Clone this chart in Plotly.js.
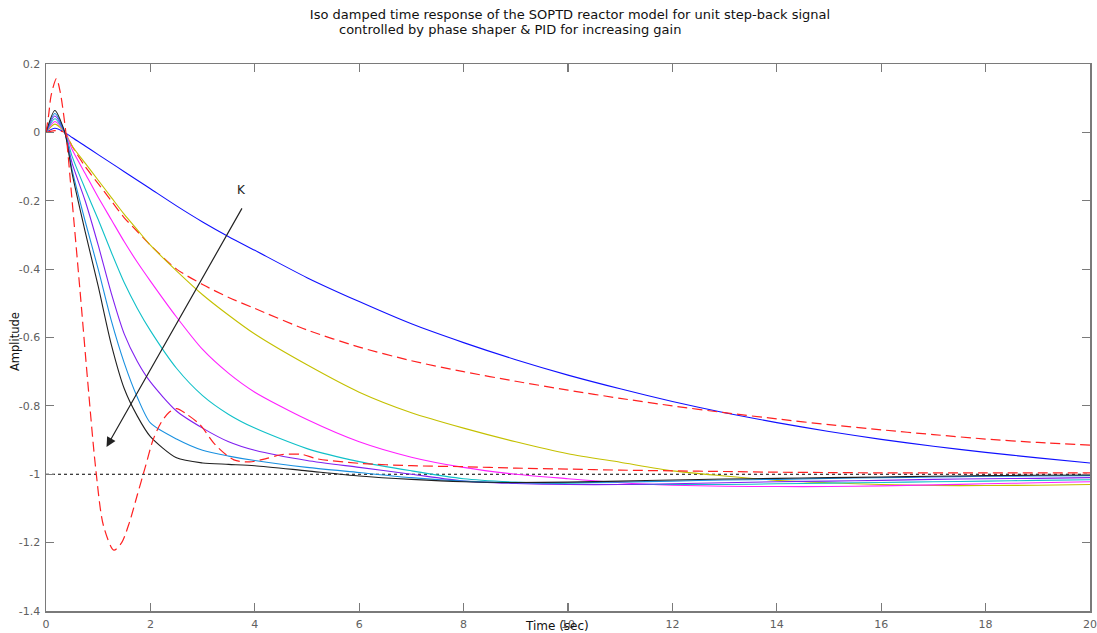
<!DOCTYPE html>
<html>
<head>
<meta charset="utf-8">
<script src="https://cdn.plot.ly/plotly-3.0.1.min.js"></script>
<style>html,body{margin:0;padding:0;background:#fff;}#chart{width:1097px;height:633px;}</style>
</head>
<body>
<div id="chart"></div>
<script>
// ---- data ----
const timeSec = [0, 0.17, 0.36, 0.5, 0.75, 1, 1.25, 1.5, 1.75, 2, 2.5, 3, 3.5, 4, 5, 6, 7, 8, 9, 10, 11, 12, 13, 14, 15, 16, 17, 18, 19, 20];

const blueResp    = [0, 0.012, 0, -0.015, -0.04, -0.065, -0.09, -0.115, -0.14, -0.165, -0.215, -0.262, -0.305, -0.345, -0.425, -0.495, -0.56, -0.615, -0.665, -0.71, -0.75, -0.787, -0.82, -0.849, -0.875, -0.898, -0.918, -0.936, -0.952, -0.967];
const redSlowResp = [0, 0.005, 0, -0.04, -0.10, -0.15, -0.20, -0.25, -0.29, -0.33, -0.40, -0.445, -0.483, -0.515, -0.578, -0.628, -0.668, -0.70, -0.728, -0.754, -0.778, -0.80, -0.82, -0.838, -0.855, -0.87, -0.884, -0.897, -0.907, -0.915];
const yellowResp  = [0, 0.024, 0, -0.04, -0.09, -0.14, -0.19, -0.24, -0.285, -0.33, -0.405, -0.475, -0.535, -0.59, -0.68, -0.76, -0.82, -0.865, -0.905, -0.94, -0.965, -0.99, -1.005, -1.018, -1.025, -1.03, -1.033, -1.033, -1.032, -1.03];
const magentaResp = [0, 0.032, 0, -0.05, -0.12, -0.19, -0.255, -0.32, -0.38, -0.435, -0.54, -0.635, -0.705, -0.76, -0.84, -0.905, -0.95, -0.98, -1.0, -1.013, -1.025, -1.032, -1.035, -1.036, -1.036, -1.034, -1.031, -1.028, -1.025, -1.022];
const cyanResp    = [0, 0.04, 0, -0.07, -0.165, -0.255, -0.35, -0.44, -0.515, -0.58, -0.69, -0.77, -0.825, -0.865, -0.925, -0.963, -0.99, -1.013, -1.023, -1.028, -1.03, -1.03, -1.03, -1.028, -1.026, -1.024, -1.022, -1.02, -1.018, -1.016];
const purpleResp  = [0, 0.048, 0, -0.09, -0.2, -0.33, -0.47, -0.59, -0.67, -0.73, -0.815, -0.865, -0.905, -0.93, -0.96, -0.98, -1.0, -1.02, -1.027, -1.03, -1.03, -1.028, -1.025, -1.022, -1.02, -1.018, -1.015, -1.013, -1.012, -1.01];
const ltBlueResp  = [0, 0.055, 0, -0.11, -0.26, -0.40, -0.55, -0.675, -0.775, -0.85, -0.897, -0.93, -0.947, -0.96, -0.98, -0.995, -1.01, -1.02, -1.025, -1.025, -1.023, -1.02, -1.017, -1.015, -1.012, -1.01, -1.008, -1.006, -1.005, -1.004];
const blackResp   = [0, 0.064, 0, -0.12, -0.29, -0.45, -0.62, -0.75, -0.83, -0.89, -0.952, -0.967, -0.971, -0.975, -0.99, -1.005, -1.015, -1.022, -1.024, -1.023, -1.02, -1.017, -1.014, -1.012, -1.01, -1.008, -1.006, -1.004, -1.003, -1.002];

const timeOsc = [0, 0.05, 0.1, 0.2, 0.27, 0.38, 0.5, 0.65, 0.8, 0.95, 1.1, 1.3, 1.45, 1.6, 1.75, 1.9, 2.05, 2.2, 2.35, 2.5, 2.7, 2.95, 3.25, 3.6, 3.9, 4.2, 4.5, 4.9, 5.2, 6, 7, 8, 9, 10, 11, 12, 13, 14, 15, 16, 18, 20];
const redOscResp = [0, 0.05, 0.11, 0.157, 0.12, 0, -0.2, -0.46, -0.73, -0.98, -1.15, -1.222, -1.2, -1.14, -1.06, -0.98, -0.9, -0.85, -0.82, -0.808, -0.825, -0.855, -0.915, -0.958, -0.964, -0.955, -0.943, -0.942, -0.955, -0.968, -0.975, -0.978, -0.982, -0.985, -0.988, -0.99, -0.992, -0.994, -0.995, -0.996, -0.996, -0.996];

const refTime = [0, 20];
const refLevel = [-1, -1];

const xTickVals = [0, 2, 4, 6, 8, 10, 12, 14, 16, 18, 20];
const xTickText = ['0', '2', '4', '6', '8', '10', '12', '14', '16', '18', '20'];
const yTickVals = [0.2, 0, -0.2, -0.4, -0.6, -0.8, -1, -1.2, -1.4];
const yTickText = ['0.2', '0', '-0.2', '-0.4', '-0.6', '-0.8', '-1', '-1.2', '-1.4'];

const titleLine1 = 'Iso damped time response of the SOPTD reactor model for unit step-back signal';
const titleLine2 = 'controlled by phase shaper &amp; PID for increasing gain';

// arrow (data coordinates): tail near K, head at lower left
const arrowTail = {t: 3.77, v: -0.218};
const arrowHead = {t: 1.16, v: -0.92};
const kLabel = {t: 3.75, v: -0.17};

// ---- traces ----
function solid(y, color) {
  return {x: timeSec, y: y, type: 'scatter', mode: 'lines', hoverinfo: 'skip',
          line: {color: color, width: 1.1, shape: 'spline', smoothing: 0.7}};
}
const traces = [
  {x: refTime, y: refLevel, type: 'scatter', mode: 'lines', line: {color: '#000', width: 1.2, dash: 'dot'}},
  solid(blueResp, '#1010ff'),
  {x: timeSec, y: redSlowResp, type: 'scatter', mode: 'lines', line: {color: '#ff2020', width: 1.2, dash: '10px,5px', shape: 'spline', smoothing: 0.7}},
  solid(yellowResp, '#c4c000'),
  solid(magentaResp, '#ff20ff'),
  solid(cyanResp, '#10c0c8'),
  solid(purpleResp, '#8020f0'),
  solid(ltBlueResp, '#1890e0'),
  solid(blackResp, '#202020'),
  {x: timeOsc, y: redOscResp, type: 'scatter', mode: 'lines', line: {color: '#ff2020', width: 1.2, dash: '10px,5px', shape: 'spline', smoothing: 0.8}}
];

const W = 1097, H = 633, ML = 46, MR = 7, MT = 64, MB = 22;
const PW = W - ML - MR, PH = H - MT - MB;
function px2paperX(px) { return (px - ML) / PW; }
function px2paperY(py) { return (H - MB - py) / PH; }

const axisCommon = {
  showgrid: false, zeroline: false, showline: true, mirror: 'ticks',
  linecolor: '#7a7a7a', linewidth: 1.5, ticks: 'inside', ticklen: 8, tickcolor: '#7a7a7a', tickwidth: 1.2,
  tickfont: {family: 'DejaVu Sans, Arial, sans-serif', size: 11, color: '#606060'}
};

const layout = {
  width: W, height: H,
  margin: {l: ML, r: MR, t: MT, b: MB},
  paper_bgcolor: '#fff', plot_bgcolor: '#fff',
  showlegend: false,
  title: {text: titleLine1, x: 570 / W, xref: 'container', xanchor: 'center',
          y: 1 - 14 / H, yref: 'container', yanchor: 'middle',
          font: {family: 'DejaVu Sans, Arial, sans-serif', size: 13, color: '#111'}},
  xaxis: Object.assign({}, axisCommon, {range: [0, 20], tickmode: 'array', tickvals: xTickVals, ticktext: xTickText, ticklabelstandoff: 2}),
  yaxis: Object.assign({}, axisCommon, {range: [-1.4, 0.2], tickmode: 'array', tickvals: yTickVals, ticktext: yTickText, ticklabelstandoff: 2}),
  annotations: [
    {text: titleLine2, xref: 'paper', yref: 'paper', x: px2paperX(337), y: px2paperY(29),
     xanchor: 'left', yanchor: 'middle', showarrow: false,
     font: {family: 'DejaVu Sans, Arial, sans-serif', size: 13, color: '#111'}},
    {text: 'Amplitude', xref: 'paper', yref: 'paper', x: px2paperX(15), y: px2paperY(342),
     xanchor: 'center', yanchor: 'middle', textangle: -90, showarrow: false,
     font: {family: 'DejaVu Sans, Arial, sans-serif', size: 11.5, color: '#111'}},
    {text: 'Time (sec)', xref: 'paper', yref: 'paper', x: px2paperX(557), y: px2paperY(626),
     xanchor: 'center', yanchor: 'middle', showarrow: false,
     font: {family: 'DejaVu Sans, Arial, sans-serif', size: 12, color: '#111'}},
    {text: '', x: arrowHead.t, y: arrowHead.v, ax: arrowTail.t, ay: arrowTail.v,
     xref: 'x', yref: 'y', axref: 'x', ayref: 'y', showarrow: true,
     arrowhead: 2, arrowsize: 1.6, arrowwidth: 1.2, arrowcolor: '#222'},
    {text: 'K', x: kLabel.t, y: kLabel.v, xref: 'x', yref: 'y', showarrow: false,
     font: {family: 'DejaVu Sans, Arial, sans-serif', size: 12, color: '#222'}}
  ]
};

Plotly.newPlot('chart', traces, layout, {staticPlot: true, displayModeBar: false});
</script>
</body>
</html>
